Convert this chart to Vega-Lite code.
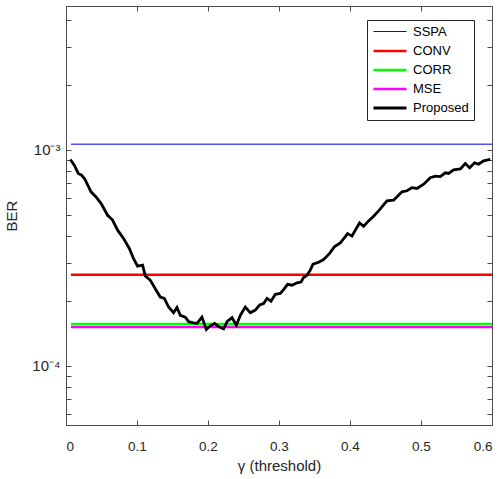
{
  "$schema": "https://vega.github.io/schema/vega-lite/v6.json",
  "width": 426,
  "height": 419,
  "autosize": "none",
  "padding": {"left": 66, "top": 6, "right": 9, "bottom": 54},
  "config": {
    "view": {"stroke": "#4d4d4d", "strokeWidth": 1},
    "font": "Liberation Sans",
    "axis": {
      "grid": false,
      "labelFont": "Liberation Sans",
      "titleFont": "Liberation Sans",
      "labelFontSize": 13.5,
      "titleFontSize": 15,
      "titleFontWeight": "normal",
      "labelColor": "#262626",
      "titleColor": "#262626",
      "domainColor": "#4d4d4d",
      "tickColor": "#4d4d4d",
      "tickSize": -5
    }
  },
  "data": {
    "values": [
      {"x": 0.007, "y": 0.00106, "s": "SSPA"},
      {"x": 0.6, "y": 0.00106, "s": "SSPA"},
      {"x": 0.007, "y": 0.000264, "s": "CONV"},
      {"x": 0.6, "y": 0.000264, "s": "CONV"},
      {"x": 0.007, "y": 0.000156, "s": "CORR"},
      {"x": 0.6, "y": 0.000156, "s": "CORR"},
      {"x": 0.007, "y": 0.000151, "s": "MSE"},
      {"x": 0.6, "y": 0.000151, "s": "MSE"},
      {"x": 0.0061, "y": 0.000901, "s": "Proposed"},
      {"x": 0.0117, "y": 0.000848, "s": "Proposed"},
      {"x": 0.0173, "y": 0.000776, "s": "Proposed"},
      {"x": 0.022, "y": 0.000762, "s": "Proposed"},
      {"x": 0.0268, "y": 0.000728, "s": "Proposed"},
      {"x": 0.0352, "y": 0.000638, "s": "Proposed"},
      {"x": 0.0423, "y": 0.000604, "s": "Proposed"},
      {"x": 0.0493, "y": 0.000564, "s": "Proposed"},
      {"x": 0.0586, "y": 0.000497, "s": "Proposed"},
      {"x": 0.0656, "y": 0.000472, "s": "Proposed"},
      {"x": 0.0727, "y": 0.000424, "s": "Proposed"},
      {"x": 0.0811, "y": 0.000388, "s": "Proposed"},
      {"x": 0.0892, "y": 0.000349, "s": "Proposed"},
      {"x": 0.0952, "y": 0.000313, "s": "Proposed"},
      {"x": 0.1008, "y": 0.000289, "s": "Proposed"},
      {"x": 0.1079, "y": 0.000292, "s": "Proposed"},
      {"x": 0.1117, "y": 0.00026, "s": "Proposed"},
      {"x": 0.1187, "y": 0.000249, "s": "Proposed"},
      {"x": 0.1268, "y": 0.000224, "s": "Proposed"},
      {"x": 0.1328, "y": 0.000208, "s": "Proposed"},
      {"x": 0.1385, "y": 0.000205, "s": "Proposed"},
      {"x": 0.1445, "y": 0.000187, "s": "Proposed"},
      {"x": 0.1515, "y": 0.000176, "s": "Proposed"},
      {"x": 0.1563, "y": 0.000186, "s": "Proposed"},
      {"x": 0.161, "y": 0.000171, "s": "Proposed"},
      {"x": 0.168, "y": 0.000168, "s": "Proposed"},
      {"x": 0.1727, "y": 0.00016, "s": "Proposed"},
      {"x": 0.1797, "y": 0.000158, "s": "Proposed"},
      {"x": 0.1845, "y": 0.000157, "s": "Proposed"},
      {"x": 0.1915, "y": 0.000168, "s": "Proposed"},
      {"x": 0.1976, "y": 0.000147, "s": "Proposed"},
      {"x": 0.2032, "y": 0.000153, "s": "Proposed"},
      {"x": 0.2093, "y": 0.000157, "s": "Proposed"},
      {"x": 0.2149, "y": 0.000152, "s": "Proposed"},
      {"x": 0.222, "y": 0.000148, "s": "Proposed"},
      {"x": 0.2268, "y": 0.00016, "s": "Proposed"},
      {"x": 0.2338, "y": 0.000167, "s": "Proposed"},
      {"x": 0.2399, "y": 0.000154, "s": "Proposed"},
      {"x": 0.2455, "y": 0.000171, "s": "Proposed"},
      {"x": 0.2525, "y": 0.000187, "s": "Proposed"},
      {"x": 0.2596, "y": 0.000176, "s": "Proposed"},
      {"x": 0.2666, "y": 0.000181, "s": "Proposed"},
      {"x": 0.2727, "y": 0.000191, "s": "Proposed"},
      {"x": 0.2783, "y": 0.000194, "s": "Proposed"},
      {"x": 0.2831, "y": 0.000205, "s": "Proposed"},
      {"x": 0.2887, "y": 0.000199, "s": "Proposed"},
      {"x": 0.2948, "y": 0.000214, "s": "Proposed"},
      {"x": 0.3018, "y": 0.000216, "s": "Proposed"},
      {"x": 0.3065, "y": 0.000225, "s": "Proposed"},
      {"x": 0.3121, "y": 0.000238, "s": "Proposed"},
      {"x": 0.3183, "y": 0.000236, "s": "Proposed"},
      {"x": 0.3254, "y": 0.000242, "s": "Proposed"},
      {"x": 0.331, "y": 0.000244, "s": "Proposed"},
      {"x": 0.3346, "y": 0.000256, "s": "Proposed"},
      {"x": 0.3394, "y": 0.000262, "s": "Proposed"},
      {"x": 0.3441, "y": 0.000277, "s": "Proposed"},
      {"x": 0.3479, "y": 0.000295, "s": "Proposed"},
      {"x": 0.3558, "y": 0.000301, "s": "Proposed"},
      {"x": 0.3628, "y": 0.00031, "s": "Proposed"},
      {"x": 0.3713, "y": 0.000331, "s": "Proposed"},
      {"x": 0.3779, "y": 0.000355, "s": "Proposed"},
      {"x": 0.3863, "y": 0.00037, "s": "Proposed"},
      {"x": 0.392, "y": 0.000391, "s": "Proposed"},
      {"x": 0.3966, "y": 0.000409, "s": "Proposed"},
      {"x": 0.4028, "y": 0.000398, "s": "Proposed"},
      {"x": 0.4075, "y": 0.000424, "s": "Proposed"},
      {"x": 0.4135, "y": 0.000458, "s": "Proposed"},
      {"x": 0.4192, "y": 0.000442, "s": "Proposed"},
      {"x": 0.4262, "y": 0.000468, "s": "Proposed"},
      {"x": 0.4332, "y": 0.000492, "s": "Proposed"},
      {"x": 0.4403, "y": 0.000521, "s": "Proposed"},
      {"x": 0.4521, "y": 0.000579, "s": "Proposed"},
      {"x": 0.4614, "y": 0.000584, "s": "Proposed"},
      {"x": 0.4732, "y": 0.000638, "s": "Proposed"},
      {"x": 0.4803, "y": 0.000645, "s": "Proposed"},
      {"x": 0.4873, "y": 0.000667, "s": "Proposed"},
      {"x": 0.4944, "y": 0.000661, "s": "Proposed"},
      {"x": 0.5037, "y": 0.000692, "s": "Proposed"},
      {"x": 0.5131, "y": 0.000742, "s": "Proposed"},
      {"x": 0.5201, "y": 0.000754, "s": "Proposed"},
      {"x": 0.5272, "y": 0.00075, "s": "Proposed"},
      {"x": 0.5342, "y": 0.000781, "s": "Proposed"},
      {"x": 0.5389, "y": 0.000776, "s": "Proposed"},
      {"x": 0.5459, "y": 0.000806, "s": "Proposed"},
      {"x": 0.5554, "y": 0.000814, "s": "Proposed"},
      {"x": 0.5624, "y": 0.000863, "s": "Proposed"},
      {"x": 0.5685, "y": 0.000825, "s": "Proposed"},
      {"x": 0.5755, "y": 0.000869, "s": "Proposed"},
      {"x": 0.5811, "y": 0.000857, "s": "Proposed"},
      {"x": 0.5882, "y": 0.000887, "s": "Proposed"},
      {"x": 0.5976, "y": 0.000901, "s": "Proposed"}
    ]
  },
  "resolve": {"axis": {"x": "independent", "y": "independent"}},
  "layer": [
    {
      "mark": {"type": "line", "strokeCap": "butt"},
      "encoding": {
        "x": {
          "field": "x", "type": "quantitative",
          "scale": {"domain": [0, 0.6], "nice": false, "zero": false},
          "axis": {
            "orient": "bottom",
            "values": [0, 0.1, 0.2, 0.3, 0.4, 0.5, 0.6],
            "labelExpr": "datum.value == 0 ? '0' : format(datum.value, '.1f')",
            "labelPadding": 19,
            "title": "γ (threshold)",
            "titlePadding": 6
          }
        },
        "y": {
          "field": "y", "type": "quantitative",
          "scale": {"type": "log", "domain": [0.0000532, 0.00462], "nice": false},
          "axis": {
            "orient": "left",
            "values": [0.00006, 0.00007, 0.00008, 0.00009, 0.0001, 0.0002, 0.0003, 0.0004, 0.0005, 0.0006, 0.0007, 0.0008, 0.0009, 0.001, 0.002, 0.003, 0.004],
            "labelExpr": "datum.value == 0.001 ? '10⁻³' : (datum.value == 0.0001 ? '10⁻⁴' : '')",
            "labelFontSize": 15,
            "labelPadding": 11,
            "title": "BER",
            "titlePadding": 12
          }
        },
        "color": {
          "field": "s", "type": "nominal",
          "scale": {"domain": ["SSPA", "CONV", "CORR", "MSE", "Proposed"], "range": ["#0000ff", "#ff0000", "#00ff00", "#ff00ff", "#000000"]},
          "legend": {
            "title": null,
            "orient": "none",
            "legendX": 301,
            "legendY": 14,
            "symbolType": "M-1,0H5",
            "symbolSize": 121,
            "labelFontSize": 13,
            "labelFont": "Liberation Sans",
            "labelColor": "#000000",
            "labelOffset": 27,
            "rowPadding": 5,
            "padding": 5,
            "strokeColor": "#262626",
            "fillColor": "#ffffff",
            "labelExpr": "datum.label + '\u00a0\u00a0\u00a0'",
            "encode": {
              "symbols": {
                "update": {
                  "strokeWidth": {"signal": "datum.value == 'SSPA' ? 1 : 2.6"}
                }
              }
            }
          }
        },
        "strokeWidth": {
          "field": "s", "type": "nominal",
          "scale": {"type": "ordinal", "domain": ["SSPA", "CONV", "CORR", "MSE", "Proposed"], "range": [1, 2.5, 2.5, 2.5, 2.8]},
          "legend": null
        }
      }
    },
    {
      "mark": {"type": "point", "opacity": 0},
      "encoding": {
        "x": {
          "field": "x", "type": "quantitative",
          "axis": {"orient": "top", "values": [0, 0.1, 0.2, 0.3, 0.4, 0.5, 0.6], "labels": false, "title": null, "domain": false}
        },
        "y": {
          "field": "y", "type": "quantitative",
          "axis": {"orient": "right", "values": [0.00006, 0.00007, 0.00008, 0.00009, 0.0001, 0.0002, 0.0003, 0.0004, 0.0005, 0.0006, 0.0007, 0.0008, 0.0009, 0.001, 0.002, 0.003, 0.004], "labels": false, "title": null, "domain": false}
        }
      }
    }
  ]
}
